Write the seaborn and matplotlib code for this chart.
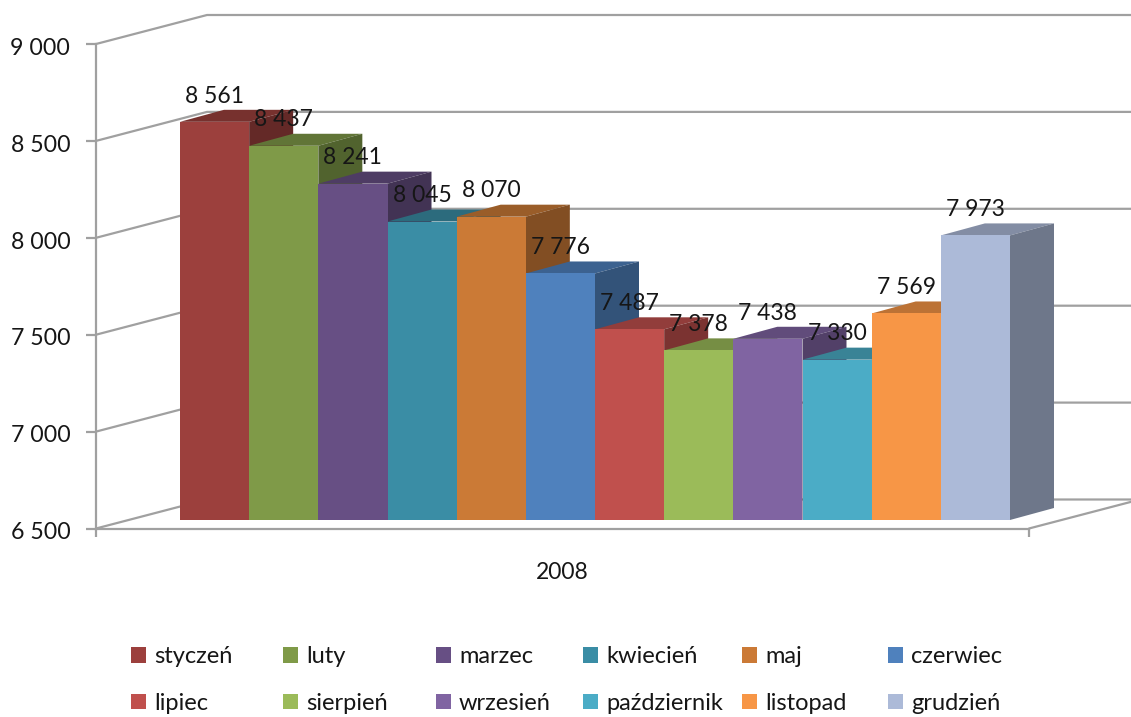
import matplotlib
matplotlib.use('Agg')
import matplotlib.pyplot as plt
from matplotlib.lines import Line2D
from matplotlib.patches import Patch, Polygon
from matplotlib.transforms import IdentityTransform, ScaledTranslation
from matplotlib.colors import to_rgb
import pandas as pd
import seaborn as sns

months = ["styczeń", "luty", "marzec", "kwiecień", "maj", "czerwiec",
          "lipiec", "sierpień", "wrzesień", "październik", "listopad", "grudzień"]
values = [8561, 8437, 8241, 8045, 8070, 7776, 7487, 7378, 7438, 7330, 7569, 7973]
colors = ["#9C403D", "#7F9A48", "#674F84", "#3A8DA5", "#CB7A36", "#4F81BD",
          "#C0504D", "#9BBB59", "#8064A2", "#4BACC6", "#F79646", "#ACBAD8"]
year = ["2008"]
y_ticks = [6500, 7000, 7500, 8000, 8500, 9000]

W, H = 1131, 717
GREY = "#A0A0A0"
TEXT = "#161616"


def fmt(v):
    # Polish thousands separator
    return f"{v:,}".replace(",", " ")


def box(left, top, right, bottom):
    # Axes position from pixel edges of the picture
    return [left / W, 1 - bottom / H, (right - left) / W, (bottom - top) / H]


def shade(color, factor):
    return tuple(c * factor for c in to_rgb(color))


sns.set_theme(style="white")
plt.rcParams['font.family'] = ['Lato', 'DejaVu Sans']

df = pd.DataFrame({"rok": year * len(months), "miesiac": months, "wartosc": values})

fig = plt.figure(figsize=(W / 100, H / 100), dpi=100)

# Front edge of the chart box, holds the axes and their ticks
frame = fig.add_axes(box(96, 44, 1029, 528.5))
frame.set_xlim(-0.5, 0.5)
frame.set_ylim(y_ticks[0], y_ticks[-1])
frame.patch.set_visible(False)
sns.despine(ax=frame, top=True, right=True)
for side in ["left", "bottom"]:
    frame.spines[side].set_color(GREY)
    frame.spines[side].set_linewidth(1.6)
frame.set_yticks(y_ticks)
frame.set_yticklabels([fmt(v) for v in y_ticks])
frame.set_xticks([0])
frame.set_xticklabels(year)
frame.set_xticks([-0.5, 0.5], minor=True)
frame.tick_params(axis="y", left=True, length=7.5, width=1.6, color=GREY, pad=11, labelsize=16.7, labelcolor=TEXT)
frame.tick_params(axis="x", which="major", bottom=False, pad=18, labelsize=16.5, labelcolor=TEXT)
frame.tick_params(axis="x", which="minor", bottom=True, length=6, width=1.6, color=GREY)
# Labels sit slightly under their ticks in the original
nudge = ScaledTranslation(0, -1.6 / 72, fig.dpi_scale_trans)
for label in frame.get_yticklabels():
    label.set_transform(label.get_transform() + nudge)

# Back wall and floor: each gridline runs back from the front axis, then along the wall
depth_x, depth_y = 111, 29
for v in y_ticks:
    x0, y0 = frame.transData.transform((-0.5, v))
    x1, y1 = x0 + depth_x, y0 + depth_y
    fig.add_artist(Line2D([x0, x1, W + 5], [y0, y1, y1], color=GREY, lw=1.6,
                          transform=IdentityTransform(), zorder=0))
x0, y0 = frame.transData.transform((0.5, y_ticks[0]))
fig.add_artist(Line2D([x0, x0 + depth_x], [y0, y0 + depth_y], color=GREY, lw=1.6,
                      transform=IdentityTransform(), zorder=0))

# The bars stand a little inside the box
ax = fig.add_axes(box(180, 37, 1010, 520))
ax.patch.set_visible(False)
ax.set_zorder(2)
sns.barplot(data=df, x="rok", y="wartosc", hue="miesiac", hue_order=months,
            palette=colors, saturation=1, width=1, gap=0, legend=False, ax=ax)
ax.set_xlim(-0.5, 0.5)
ax.set_ylim(y_ticks[0], y_ticks[-1])
ax.axis("off")

# Painted left to right so every bar covers the side of the one before it
bar_dx, bar_dy = 44, 12
for i, (container, color, value) in enumerate(zip(ax.containers, colors, values)):
    bar = container[0]
    bar.set_linewidth(0)
    bar.set_zorder(3 + i)
    left, right = bar.get_x(), bar.get_x() + bar.get_width()
    xl, yt = ax.transData.transform((left, value))
    xr, yb = ax.transData.transform((right, y_ticks[0]))
    top = [(xl, yt), (xr, yt), (xr + bar_dx, yt + bar_dy), (xl + bar_dx, yt + bar_dy)]
    side = [(xr, yb), (xr, yt), (xr + bar_dx, yt + bar_dy), (xr + bar_dx, yb + bar_dy)]
    ax.add_patch(Polygon(top, closed=True, facecolor=shade(color, 0.76), lw=0,
                         transform=IdentityTransform(), clip_on=False, zorder=2.5 + i))
    ax.add_patch(Polygon(side, closed=True, facecolor=shade(color, 0.64), lw=0,
                         transform=IdentityTransform(), clip_on=False, zorder=2.5 + i))
    ax.bar_label(container, labels=[fmt(value)], padding=11, fontsize=16.5,
                 color=TEXT, zorder=50)

# One small legend per column, the original columns are evenly spaced
columns = [131, 283, 436, 583, 742, 888]
for col, x in enumerate(columns):
    idx = [col, col + 6]
    handles = [Patch(facecolor=colors[j], edgecolor="none") for j in idx]
    fig.legend(handles, [months[j] for j in idx], loc="upper left",
               bbox_to_anchor=(x / W, 1 - 646 / H), borderaxespad=0, borderpad=0,
               frameon=False, fontsize=17, labelcolor=TEXT, handlelength=0.64,
               handleheight=0.64, handletextpad=0.33, labelspacing=1.1)

fig.savefig("out.png", dpi=100)
